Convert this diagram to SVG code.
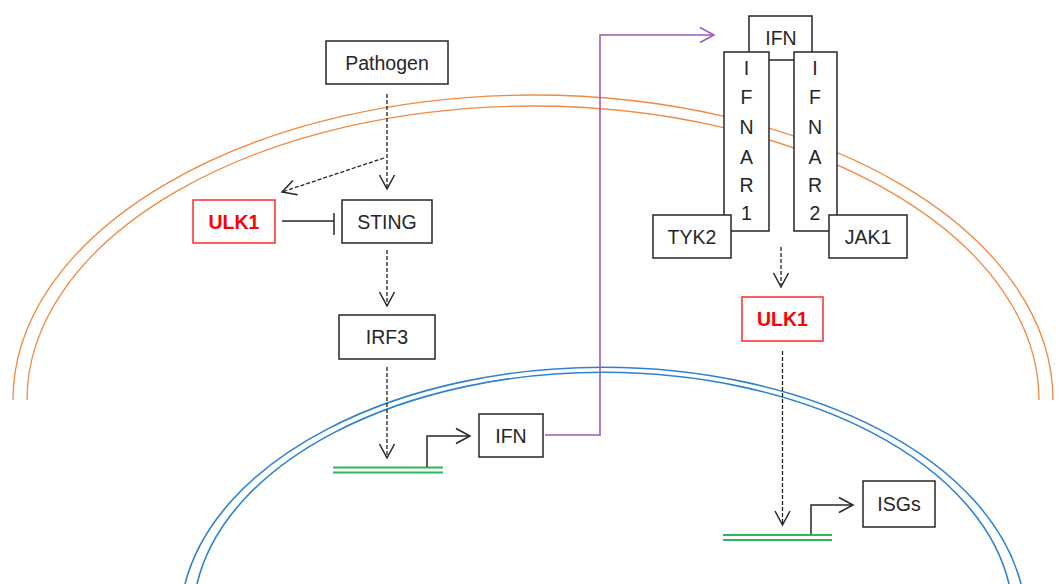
<svg xmlns="http://www.w3.org/2000/svg" width="1060" height="584" viewBox="0 0 1060 584">
<style>
.box{fill:#fff;stroke:#262626;stroke-width:1.5}
.rbox{fill:#fff;stroke:#ff2a2a;stroke-width:1.5}
.t{font-family:"Liberation Sans",Arial,sans-serif;font-size:19.5px;fill:#262626;text-anchor:middle;dominant-baseline:central}
.rt{font-family:"Liberation Sans",Arial,sans-serif;font-size:19.5px;font-weight:bold;fill:#ff0000;text-anchor:middle;dominant-baseline:central}
.dash{fill:none;stroke:#222;stroke-width:1.3;stroke-dasharray:4 2}
.solid{fill:none;stroke:#262626;stroke-width:1.5}
.orange{fill:none;stroke:#f08a44;stroke-width:1.3}
.blue{fill:none;stroke:#2e82cf;stroke-width:1.6}
.gene{fill:none;stroke:#2bb85a;stroke-width:1.8}
</style>
<defs>
<marker id="ah" markerUnits="userSpaceOnUse" markerWidth="18" markerHeight="20" viewBox="0 0 18 20" refX="16" refY="10" orient="auto">
<path d="M2,2.5 L16,10 L2,17.5" fill="none" stroke="#262626" stroke-width="1.5"/>
</marker>
<marker id="ahp" markerUnits="userSpaceOnUse" markerWidth="18" markerHeight="20" viewBox="0 0 18 20" refX="16" refY="10" orient="auto">
<path d="M2,2.5 L16,10 L2,17.5" fill="none" stroke="#9b59c4" stroke-width="1.5"/>
</marker>
</defs>
<g id="membranes">
<path class="orange" d="M13,400 A520,305 0 0 1 1053,400"/>
<path class="orange" d="M27,400 A506,294 0 0 1 1039,400"/>
<path class="blue" d="M185,584 A423,256 0 0 1 1021,584"/>
<path class="blue" d="M197,584 A410,246 0 0 1 1009,584"/>
</g>
<g id="genes">
<line class="gene" x1="333" y1="467.5" x2="443" y2="467.5"/>
<line class="gene" x1="333" y1="472.5" x2="443" y2="472.5"/>
<line class="gene" x1="723" y1="535" x2="832" y2="535"/>
<line class="gene" x1="723" y1="540" x2="832" y2="540"/>
</g>
<g id="connectors">
<line class="dash" x1="387" y1="94" x2="387" y2="189" marker-end="url(#ah)"/>
<line class="dash" x1="384" y1="158" x2="282" y2="192" marker-end="url(#ah)"/>
<line class="solid" x1="282" y1="221" x2="334" y2="221"/>
<line class="solid" x1="334" y1="213" x2="334" y2="235"/>
<line class="dash" x1="387" y1="250" x2="387" y2="306" marker-end="url(#ah)"/>
<line class="dash" x1="387" y1="367" x2="387" y2="458" marker-end="url(#ah)"/>
<polyline class="solid" points="427,467 427,436 470,436" marker-end="url(#ah)"/>
<polyline fill="none" stroke="#9b59c4" stroke-width="1.6" points="545,435 600,435 600,35 714,35" marker-end="url(#ahp)"/>
<line class="dash" x1="781" y1="247" x2="781" y2="287" marker-end="url(#ah)"/>
<line class="dash" x1="782.5" y1="351" x2="782.5" y2="525" marker-end="url(#ah)"/>
<polyline class="solid" points="811,534 811,505 853,505" marker-end="url(#ah)"/>
</g>
<g id="pathogen"><rect class="box" x="326" y="41" width="122" height="43"/><text class="t" x="387" y="63">Pathogen</text></g>
<g id="ulk1-left"><rect class="rbox" x="193" y="200" width="82" height="43"/><text class="rt" x="234" y="222">ULK1</text></g>
<g id="sting"><rect class="box" x="342" y="200" width="90" height="43"/><text class="t" x="387" y="222">STING</text></g>
<g id="irf3"><rect class="box" x="339" y="315" width="96" height="44"/><text class="t" x="387" y="337">IRF3</text></g>
<g id="ifn-nucleus"><rect class="box" x="479" y="414" width="64" height="43"/><text class="t" x="511" y="436">IFN</text></g>
<g id="ifn-top"><rect class="box" x="749" y="16" width="63" height="44"/><text class="t" x="781" y="38">IFN</text></g>
<g id="ifnar1"><rect class="box" x="724" y="52" width="45" height="179"/>
<text class="t" x="746.5" y="68">I</text><text class="t" x="746.5" y="97">F</text><text class="t" x="746.5" y="127">N</text><text class="t" x="746.5" y="157">A</text><text class="t" x="746.5" y="185">R</text><text class="t" x="746.5" y="213">1</text></g>
<g id="ifnar2"><rect class="box" x="794" y="52" width="43" height="179"/>
<text class="t" x="815" y="68">I</text><text class="t" x="815" y="97">F</text><text class="t" x="815" y="127">N</text><text class="t" x="815" y="157">A</text><text class="t" x="815" y="185">R</text><text class="t" x="815" y="213">2</text></g>
<g id="tyk2"><rect class="box" x="653" y="215" width="78" height="43"/><text class="t" x="692" y="237">TYK2</text></g>
<g id="jak1"><rect class="box" x="829" y="215" width="78" height="43"/><text class="t" x="868" y="237">JAK1</text></g>
<g id="ulk1-right"><rect class="rbox" x="742" y="297" width="81" height="44"/><text class="rt" x="782.5" y="319">ULK1</text></g>
<g id="isgs"><rect class="box" x="863" y="481" width="72" height="46"/><text class="t" x="899" y="504">ISGs</text></g>
</svg>
